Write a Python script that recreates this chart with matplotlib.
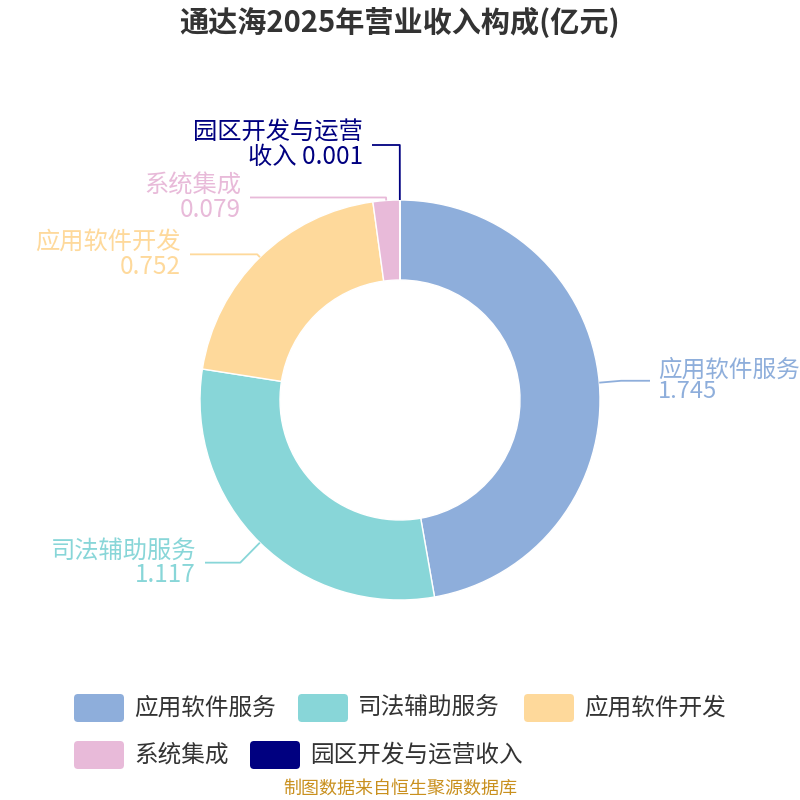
import numpy as np
import matplotlib
matplotlib.use('Agg')
import matplotlib.pyplot as plt
from matplotlib.patches import FancyBboxPatch

plt.rcParams['font.family'] = ['Noto Sans CJK SC', 'DejaVu Sans']

# data
categories = ['应用软件服务', '司法辅助服务', '应用软件开发', '系统集成', '园区开发与运营收入']
values = [1.745, 1.117, 0.752, 0.079, 0.001]
label_text = ['应用软件服务\n1.745', '司法辅助服务\n1.117', '应用软件开发\n0.752',
              '系统集成\n0.079', '园区开发与运营\n收入 0.001']
colors = ['#8eaedb', '#88d6d8', '#fed99b', '#e8bad9', '#000080']

# leader line layout: radial extension (px) and where the horizontal part ends (x px)
ext = [22, 28, 4, 3, 55]
line_end_x = [650, 205, 190, 250, 372]

fig = plt.figure(figsize=(8, 8), dpi=100)
ax = fig.add_axes([0, 0, 1, 1])

wedges, _ = ax.pie(values, colors=colors, startangle=-90, counterclock=True,
                   center=(400, 400), radius=200,
                   wedgeprops=dict(width=80, edgecolor='white', linewidth=1))
ax.set_xlim(0, 800)
ax.set_ylim(800, 0)
ax.set_aspect('equal')
ax.axis('off')

for i, w in enumerate(wedges):
    ang = np.deg2rad((w.theta1 + w.theta2) / 2)
    cx, cy = w.center
    x0 = cx + w.r * np.cos(ang)
    y0 = cy + w.r * np.sin(ang)
    x1 = cx + (w.r + ext[i]) * np.cos(ang)
    y1 = cy + (w.r + ext[i]) * np.sin(ang)
    x2 = line_end_x[i]
    ax.plot([x0, x1, x2], [y0, y1, y1], color=colors[i], lw=1.3, solid_capstyle='butt')
    if x2 > cx:
        ax.text(x2 + 8, y1, label_text[i], color=colors[i], fontsize=17,
                ha='left', va='center', multialignment='left', linespacing=0.95)
    else:
        ax.text(x2 - 9, y1, label_text[i], color=colors[i], fontsize=17.5,
                ha='right', va='center', multialignment='right', linespacing=0.92)

ax.text(400, 22, '通达海2025年营业收入构成(亿元)', fontsize=21, fontweight='bold',
        color='#333333', ha='center', va='center')

# legend
leg_pos = [(74, 708), (298, 708), (524, 708), (74, 755), (250, 755)]
for i, (lx, ly) in enumerate(leg_pos):
    ax.add_patch(FancyBboxPatch((lx + 4, ly - 10), 42, 20,
                                boxstyle='round,pad=4', fc=colors[i], ec='none'))
    ax.text(lx + 60, ly, categories[i], fontsize=17, color='#333333',
            ha='left', va='center')

ax.text(400, 789, '制图数据来自恒生聚源数据库', fontsize=13, color='#c9901e',
        ha='center', va='center')

fig.savefig('out.png', dpi=100)
